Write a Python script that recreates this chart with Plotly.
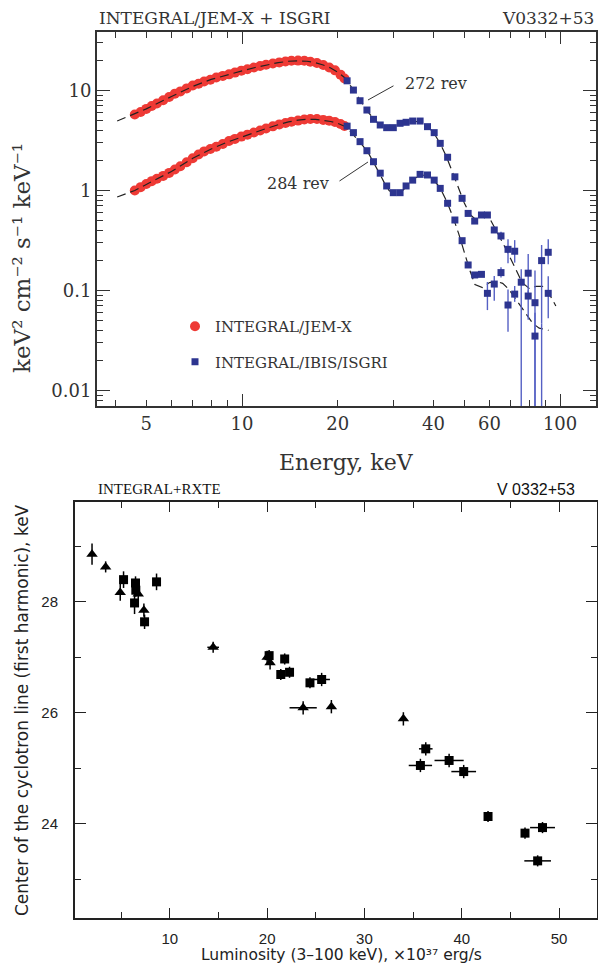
import plotly.graph_objects as go

# ---------------- Top panel: broadband spectra of V0332+53 ----------------
jemx_energy = [4.6, 4.8, 5.0, 5.2, 5.4, 5.65, 5.9, 6.15, 6.4, 6.7, 7.0, 7.3, 7.6, 7.95,
               8.3, 8.7, 9.1, 9.5, 9.95, 10.4, 10.9, 11.4, 11.9, 12.5, 13.1, 13.7, 14.3,
               15.0, 15.7, 16.4, 17.2, 18.0, 18.8, 19.6, 20.4, 21.0]
jemx_flux_272 = [5.75, 6.1, 6.55, 7.0, 7.4, 8.0, 8.6, 9.3, 9.8, 10.5, 11.2, 11.7, 12.3, 12.8,
                 13.5, 14.0, 14.5, 15.1, 15.8, 16.3, 17.0, 17.6, 18.1, 18.6, 19.1, 19.5, 19.8,
                 19.9, 19.8, 19.4, 18.8, 18.0, 17.0, 15.9, 14.4, 13.2]
jemx_flux_284 = [1.0, 1.08, 1.16, 1.24, 1.31, 1.40, 1.50, 1.62, 1.75, 1.92, 2.10, 2.29, 2.46, 2.60,
                 2.74, 2.92, 3.12, 3.28, 3.46, 3.62, 3.80, 3.98, 4.17, 4.38, 4.58, 4.74, 4.88,
                 5.0, 5.12, 5.19, 5.18, 5.08, 4.98, 4.84, 4.62, 4.42]

isgri_energy = [21.4, 22.4, 23.5, 24.7, 25.9, 27.2, 28.5, 29.9, 31.4, 32.8, 34.4, 36.3, 38.3,
                40.2, 42.0, 44.3, 46.7, 49.2, 51.4, 53.9, 56.6, 59.1, 62.1, 65.2, 68.6, 72.0,
                75.5, 79.4, 83.4, 87.5, 91.8]
isgri_flux_272 = [12.5, 10.1, 7.9, 6.38, 5.15, 4.52, 4.25, 4.25, 4.70, 4.81, 4.95, 4.95, 4.35,
                  3.79, 2.96, 2.15, 1.37, 0.835, 0.59, 0.495, 0.569, 0.569, 0.403, 0.351, 0.258,
                  0.247, 0.121, 0.149, 0.0755, 0.199, 0.241]
isgri_errp_272 = [0, 0, 0, 0, 0, 0, 0, 0, 0, 0, 0, 0, 0, 0, 0, 0, 0, 0, 0, 0, 0, 0,
                  0.025, 0.035, 0.067, 0.072, 0.042, 0.083, 0.083, 0.086, 0.084]
isgri_errm_272 = [0, 0, 0, 0, 0, 0, 0, 0, 0, 0, 0, 0, 0, 0, 0, 0, 0, 0, 0, 0, 0, 0,
                  0.025, 0.030, 0.071, 0.057, 0.120, 0.054, 0.0745, 0.152, 0.058]
isgri_flux_284 = [4.4, 3.79, 3.08, 2.50, 1.94, 1.49, 1.11, 0.951, 0.951, 1.11, 1.27, 1.45, 1.43,
                  1.27, 1.05, 0.745, 0.507, 0.315, 0.180, 0.143, 0.145, 0.0937, 0.116, 0.151,
                  0.0716, 0.092, None, 0.088, 0.035, 0.004, 0.0937]
isgri_errp_284 = [0, 0, 0, 0, 0, 0, 0, 0, 0, 0, 0, 0, 0, 0, 0, 0, 0, 0, 0, 0, 0,
                  0.028, 0.024, 0.020, 0.031, 0.019, 0, 0.012, 0.025, 0.043, 0.045]
isgri_errm_284 = [0, 0, 0, 0, 0, 0, 0, 0, 0, 0, 0, 0, 0, 0, 0, 0, 0, 0, 0, 0, 0,
                  0.030, 0.037, 0.016, 0.033, 0.015, 0, 0.037, 0.034, 0.003, 0.041]

model_energy_272 = [4.05, 4.6, 5.0, 6.0, 7.0, 8.0, 9.0, 10, 11, 12, 13, 14, 15, 16, 17, 18, 19,
                    20, 21, 22, 23, 24, 25, 26, 27, 28, 29, 30, 32, 34, 36, 38, 40, 42, 44, 46,
                    48, 50, 52, 54, 56, 58, 60, 62, 65, 68, 72, 76, 80, 84, 88, 92, 97]
model_flux_272 = [4.95, 5.8, 6.55, 8.7, 11.0, 12.9, 14.4, 15.7, 17.0, 18.1, 19.0, 19.6, 19.8,
                  19.6, 19.0, 18.0, 16.8, 15.2, 13.5, 11.0, 8.9, 7.3, 6.0, 5.15, 4.6, 4.3, 4.2,
                  4.25, 4.6, 4.9, 4.9, 4.5, 3.8, 2.95, 2.15, 1.5, 1.05, 0.75, 0.58, 0.52, 0.54,
                  0.56, 0.53, 0.44, 0.33, 0.25, 0.17, 0.12, 0.105, 0.11, 0.11, 0.095, 0.07]
model_energy_284 = [4.05, 4.6, 5.0, 6.0, 7.0, 8.0, 9.0, 10, 11, 12, 13, 14, 15, 16, 17, 18, 19,
                    20, 21, 22, 23, 24, 25, 26, 27, 28, 29, 30, 31, 32, 34, 36, 38, 40, 42, 44,
                    46, 48, 50, 52, 54, 57, 60, 63, 66, 69, 72, 76, 79, 82, 86, 92]
model_flux_284 = [0.86, 1.0, 1.15, 1.55, 2.1, 2.6, 3.05, 3.45, 3.85, 4.2, 4.55, 4.85, 5.05,
                  5.15, 5.15, 5.05, 4.9, 4.7, 4.4, 3.85, 3.3, 2.8, 2.35, 1.9, 1.5, 1.2, 1.0,
                  0.93, 0.94, 1.0, 1.22, 1.42, 1.42, 1.28, 1.06, 0.78, 0.55, 0.37, 0.24, 0.16,
                  0.115, 0.107, 0.12, 0.123, 0.118, 0.103, 0.085, 0.066, 0.055, 0.047, 0.042,
                  0.040]

energy_tick_vals = [4, 5, 6, 7, 8, 9, 10, 20, 30, 40, 50, 60, 70, 80, 90, 100]
energy_tick_text = ["", "5", "", "", "", "", "10", "20", "", "40", "", "60", "", "", "", "100"]
energy_long_ticks = [10, 100]
flux_tick_vals = [0.01, 0.1, 1, 10]
flux_tick_text = ["0.01", "0.1", "1", "10"]
flux_minor_vals = [m * d for d in (0.001, 0.01, 0.1, 1, 10) for m in range(2, 10)]

# ---------------- Bottom panel: cyclotron energy vs luminosity ----------------
tri_lum = [2.0, 3.4, 4.9, 6.75, 7.33, 14.45, 20.0, 20.3, 23.7, 26.6, 34.0]
tri_ecyc = [28.86, 28.63, 28.17, 28.14, 27.85, 27.18, 27.0, 26.9, 26.09, 26.11, 25.89]
tri_ecyc_err = [0.19, 0.10, 0.15, 0.12, 0.12, 0.10, 0.12, 0.12, 0.12, 0.12, 0.12]
tri_lum_err = [0, 0, 0, 0, 0, 0.6, 0.3, 0.3, 1.4, 0, 0.3]

sq_lum = [5.24, 6.47, 6.5, 6.37, 7.4, 8.63, 20.2, 21.8, 21.4, 22.3, 24.4, 25.6, 36.3, 35.75,
          38.7, 40.2, 42.7, 46.5, 48.3, 47.8]
sq_ecyc = [28.4, 28.34, 28.21, 27.98, 27.64, 28.36, 27.03, 26.97, 26.69, 26.73, 26.54, 26.6,
           25.35, 25.05, 25.14, 24.94, 24.13, 23.83, 23.93, 23.33]
sq_ecyc_err = [0.15, 0.12, 0.12, 0.20, 0.13, 0.15, 0.10, 0.10, 0.10, 0.10, 0.10, 0.12, 0.12,
               0.12, 0.12, 0.12, 0.10, 0.10, 0.10, 0.10]
sq_lum_err = [0, 0, 0, 0, 0, 0, 0.3, 0, 0, 0, 0, 0.85, 0.7, 1.2, 1.5, 1.27, 0, 0, 1.28, 1.37]

RED = "#ee3a35"
BLUE = "#2d3590"
BLUE_ERR = "#5560c4"
SERIF = "DejaVu Serif"
SANS = "DejaVu Sans"

fig = go.Figure()

# red JEM-X points
fig.add_trace(go.Scatter(x=jemx_energy, y=jemx_flux_272, mode="markers", name="INTEGRAL/JEM-X",
                         legendgroup="a", marker=dict(color=RED, size=10, symbol="circle"),
                         xaxis="x", yaxis="y"))
fig.add_trace(go.Scatter(x=jemx_energy, y=jemx_flux_284, mode="markers", showlegend=False,
                         marker=dict(color=RED, size=10, symbol="circle"), xaxis="x", yaxis="y"))

# model curves
for me, mf in ((model_energy_272, model_flux_272), (model_energy_284, model_flux_284)):
    fig.add_trace(go.Scatter(x=me, y=mf, mode="lines", showlegend=False, hoverinfo="skip",
                             line=dict(color="#222222", width=1.2, dash="9px,5px"),
                             xaxis="x", yaxis="y"))

# blue ISGRI points
fig.add_trace(go.Scatter(x=isgri_energy, y=isgri_flux_272, mode="markers",
                         name="INTEGRAL/IBIS/ISGRI", legendgroup="b",
                         marker=dict(color=BLUE, size=7, symbol="square"),
                         error_y=dict(type="data", array=isgri_errp_272, arrayminus=isgri_errm_272,
                                      color=BLUE_ERR, thickness=1.4, width=0),
                         xaxis="x", yaxis="y"))
fig.add_trace(go.Scatter(x=isgri_energy, y=isgri_flux_284, mode="markers", showlegend=False,
                         marker=dict(color=BLUE, size=7, symbol="square"),
                         error_y=dict(type="data", array=isgri_errp_284, arrayminus=isgri_errm_284,
                                      color=BLUE_ERR, thickness=1.4, width=0),
                         xaxis="x", yaxis="y"))

# helper trace so the overlay axis with long ticks is drawn
fig.add_trace(go.Scatter(x=model_energy_272, y=model_flux_272, mode="lines", opacity=0,
                         showlegend=False, hoverinfo="skip", line=dict(width=0),
                         xaxis="x3", yaxis="y"))

# bottom panel
fig.add_trace(go.Scatter(x=tri_lum, y=tri_ecyc, mode="markers", showlegend=False,
                         marker=dict(color="black", size=10, symbol="triangle-up"),
                         error_y=dict(type="data", array=tri_ecyc_err, color="black",
                                      thickness=1.5, width=0),
                         error_x=dict(type="data", array=tri_lum_err, color="black",
                                      thickness=1.5, width=0),
                         xaxis="x2", yaxis="y2"))
fig.add_trace(go.Scatter(x=sq_lum, y=sq_ecyc, mode="markers", showlegend=False,
                         marker=dict(color="black", size=9, symbol="square"),
                         error_y=dict(type="data", array=sq_ecyc_err, color="black",
                                      thickness=1.5, width=0),
                         error_x=dict(type="data", array=sq_lum_err, color="black",
                                      thickness=1.5, width=0),
                         xaxis="x2", yaxis="y2"))

W, H = 598, 964
top_x = [97 / W, 596 / W]
top_y = [1 - 406 / H, 1 - 32 / H]
bot_x = [75 / W, 597 / W]
bot_y = [1 - 918 / H, 1 - 502 / H]
LINE = "#333333"

fig.update_layout(
    width=W, height=H, margin=dict(l=0, r=0, t=0, b=0),
    paper_bgcolor="white", plot_bgcolor="white",
    xaxis=dict(domain=top_x, anchor="y", type="log", range=[0.544, 2.113],
               tickmode="array", tickvals=energy_tick_vals, ticktext=energy_tick_text,
               ticks="inside", ticklen=6, tickwidth=1.2, tickcolor=LINE,
               showline=True, linewidth=2, linecolor=LINE, mirror="ticks",
               showgrid=False, zeroline=False,
               tickfont=dict(family=SERIF, size=18, color="#333")),
    xaxis3=dict(overlaying="x", anchor="y", type="log", range=[0.544, 2.113],
                tickmode="array", tickvals=energy_long_ticks, showticklabels=False,
                ticks="inside", ticklen=12, tickwidth=1.2, tickcolor=LINE,
                showline=False, mirror="ticks", showgrid=False, zeroline=False),
    yaxis=dict(domain=top_y, anchor="x", type="log", range=[-2.155, 1.585],
               tickmode="array", tickvals=flux_tick_vals, ticktext=flux_tick_text,
               ticks="inside", ticklen=13, tickwidth=1.2, tickcolor=LINE,
               minor=dict(tickmode="array", tickvals=flux_minor_vals, ticks="inside",
                          ticklen=6, tickwidth=1, tickcolor=LINE),
               showline=True, linewidth=2, linecolor=LINE, mirror="ticks",
               showgrid=False, zeroline=False,
               tickfont=dict(family=SERIF, size=18, color="#333")),
    xaxis2=dict(domain=bot_x, anchor="y2", range=[0.25, 53.9],
                tickmode="linear", tick0=0, dtick=10,
                ticks="inside", ticklen=10, tickwidth=1.3, tickcolor="#222",
                minor=dict(dtick=5, tick0=0, ticks="inside", ticklen=6, tickwidth=1.3,
                           tickcolor="#222"),
                showline=True, linewidth=2, linecolor="#222", mirror="ticks",
                showgrid=False, zeroline=False, ticklabelstandoff=6,
                tickfont=dict(family="Liberation Sans", size=15, color="#222")),
    yaxis2=dict(domain=bot_y, anchor="x2", range=[22.3, 29.8],
                tickmode="linear", tick0=0, dtick=2,
                ticks="inside", ticklen=11, tickwidth=1.3, tickcolor="#222",
                minor=dict(dtick=1, tick0=0, ticks="inside", ticklen=6, tickwidth=1.3,
                           tickcolor="#222"),
                showline=True, linewidth=2, linecolor="#222", mirror="ticks",
                showgrid=False, zeroline=False, ticklabelstandoff=12,
                tickfont=dict(family="Liberation Sans", size=15, color="#222")),
    legend=dict(x=175 / W, y=1 - 310 / H, xanchor="left", yanchor="top",
                bgcolor="rgba(0,0,0,0)", borderwidth=0, traceorder="grouped",
                tracegroupgap=13, itemwidth=30,
                font=dict(family=SERIF, size=15, color="#333")),
    showlegend=True,
)

annotations = [
    dict(text="INTEGRAL/JEM-X + ISGRI", x=97 / W, y=1 - 18 / H, xref="paper", yref="paper",
         xanchor="left", yanchor="middle", showarrow=False,
         font=dict(family=SERIF, size=17, color="#333")),
    dict(text="V0332+53", x=596 / W, y=1 - 18 / H, xref="paper", yref="paper",
         xanchor="right", yanchor="middle", showarrow=False,
         font=dict(family=SERIF, size=17, color="#333")),
    dict(text="keV² cm⁻² s⁻¹ keV⁻¹", x=22 / W, y=1 - 258 / H, xref="paper", yref="paper",
         textangle=-90, xanchor="center", yanchor="middle", showarrow=False,
         font=dict(family=SERIF, size=23, color="#333")),
    dict(text="Energy, keV", x=347 / W, y=1 - 462 / H, xref="paper", yref="paper",
         xanchor="center", yanchor="middle", showarrow=False,
         font=dict(family=SERIF, size=22, color="#333")),
    dict(text="272 rev", x=1.61, y=1.075, xref="x", yref="y", showarrow=False,
         font=dict(family=SERIF, size=16, color="#333")),
    dict(text="", x=1.396, y=0.905, xref="x", yref="y", showarrow=True, arrowhead=0,
         arrowwidth=1, arrowcolor="#333", ax=27, ay=-15),
    dict(text="284 rev", x=1.176, y=0.075, xref="x", yref="y", showarrow=False,
         font=dict(family=SERIF, size=16, color="#333")),
    dict(text="", x=1.396, y=0.285, xref="x", yref="y", showarrow=True, arrowhead=0,
         arrowwidth=1, arrowcolor="#333", ax=-30, ay=20),
    dict(text="INTEGRAL+RXTE", x=96 / W, y=1 - 489 / H, xref="paper", yref="paper",
         xanchor="left", yanchor="middle", showarrow=False,
         font=dict(family="Liberation Serif", size=15, color="#111")),
    dict(text="V 0332+53", x=577 / W, y=1 - 489 / H, xref="paper", yref="paper",
         xanchor="right", yanchor="middle", showarrow=False,
         font=dict(family="Liberation Sans", size=16, color="#111")),
    dict(text="Center of the cyclotron line (first harmonic), keV", x=22 / W, y=1 - 710 / H,
         xref="paper", yref="paper", textangle=-90, xanchor="center", yanchor="middle",
         showarrow=False, font=dict(family=SANS, size=17, color="#222")),
    dict(text="Luminosity (3–100 keV), ×10³⁷ erg/s", x=341 / W, y=1 - 955 / H,
         xref="paper", yref="paper", xanchor="center", yanchor="middle", showarrow=False,
         font=dict(family=SANS, size=15.5, color="#222")),
]
fig.update_layout(annotations=annotations)

fig.write_html("out.html", config={"displayModeBar": False},
               post_script="document.body.style.margin='0';document.body.style.overflow='hidden';")
